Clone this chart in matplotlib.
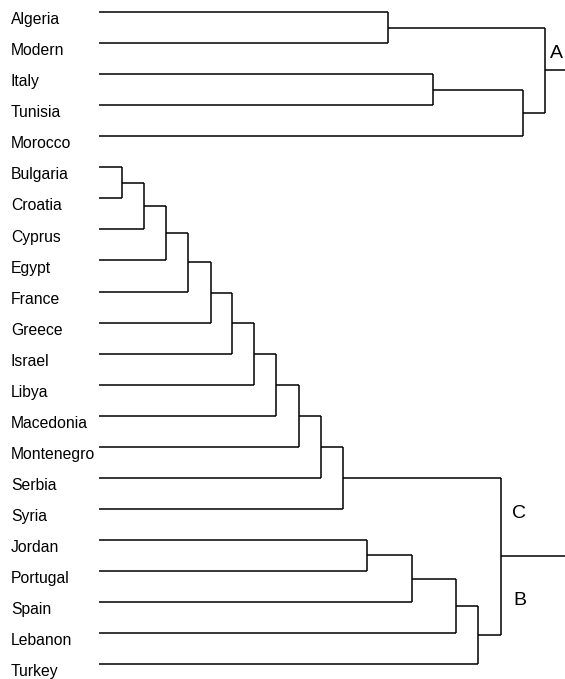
import matplotlib
matplotlib.use("Agg")
import matplotlib.pyplot as plt

plt.rcParams['font.family'] = ['Liberation Sans', 'DejaVu Sans']

# leaves, top to bottom
paises = ['Algeria', 'Modern', 'Italy', 'Tunisia', 'Morocco',
          'Bulgaria', 'Croatia', 'Cyprus', 'Egypt', 'France', 'Greece',
          'Israel', 'Libya', 'Macedonia', 'Montenegro', 'Serbia', 'Syria',
          'Jordan', 'Portugal', 'Spain', 'Lebanon', 'Turkey']

# merges: (left, right, height); ints >= 100 refer to earlier merges (100 + index)
fusoes = [
    ('Algeria', 'Modern', 289),      # 100
    ('Italy', 'Tunisia', 334),       # 101
    (101, 'Morocco', 424),           # 102
    (100, 102, 446),                 # 103  -> A
    ('Bulgaria', 'Croatia', 23),     # 104
    (104, 'Cyprus', 45),             # 105
    (105, 'Egypt', 67),              # 106
    (106, 'France', 89),             # 107
    (107, 'Greece', 112),            # 108
    (108, 'Israel', 133),            # 109
    (109, 'Libya', 155),             # 110
    (110, 'Macedonia', 177),         # 111
    (111, 'Montenegro', 200),        # 112
    (112, 'Serbia', 222),            # 113
    (113, 'Syria', 244),             # 114  -> C
    ('Jordan', 'Portugal', 268),     # 115
    (115, 'Spain', 313),             # 116
    (116, 'Lebanon', 357),           # 117
    (117, 'Turkey', 379),            # 118  -> B
    (114, 118, 402),                 # 119
]
raizes = [103, 119]
rotulos_grupo = [('A', 451, 1.32), ('C', 413, 16.14), ('B', 414, 18.94)]

fig = plt.figure(figsize=(5.65, 6.79), dpi=100)
ax = fig.add_axes([0, 0, 1, 1])
ax.set_xlim(-99, 466)
ax.set_ylim(21.48, -0.39)
ax.axis('off')

pos = {}
for i, nome in enumerate(paises):
    pos[nome] = (0, i)

cor = 'black'
lw = 1.1
for k, (a, b, h) in enumerate(fusoes):
    xa, ya = pos[a]
    xb, yb = pos[b]
    ax.plot([xa, h], [ya, ya], color=cor, lw=lw, solid_capstyle='butt')
    ax.plot([xb, h], [yb, yb], color=cor, lw=lw, solid_capstyle='butt')
    ax.plot([h, h], [ya, yb], color=cor, lw=lw, solid_capstyle='butt')
    pos[100 + k] = (h, (ya + yb) / 2)

for r in raizes:
    x, y = pos[r]
    ax.plot([x, 466], [y, y], color=cor, lw=lw, solid_capstyle='butt')

for i, nome in enumerate(paises):
    ax.text(-88, i + 0.39, nome, fontsize=11.3, ha='left', va='baseline')

for letra, x, y in rotulos_grupo:
    ax.text(x, y, letra, fontsize=14, ha='left', va='center')

fig.savefig('out.png', dpi=100)
